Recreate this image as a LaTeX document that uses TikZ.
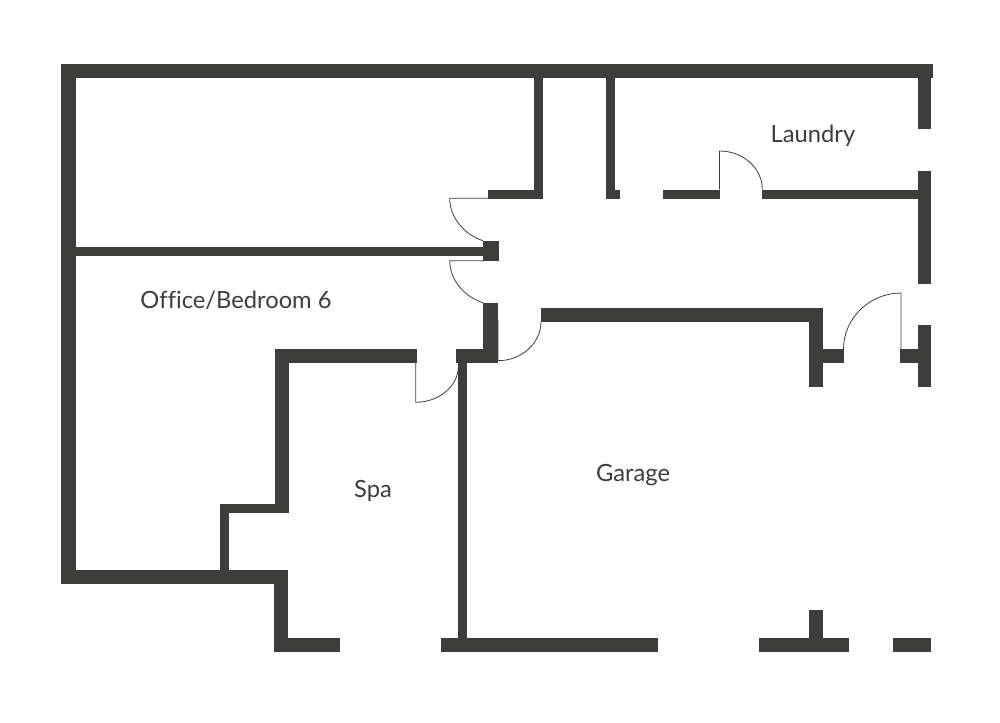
\documentclass[tikz,border=0pt]{standalone}
\usepackage{fontspec}
\setmainfont[Ligatures=NoCommon]{Lato}
\definecolor{wallgrey}{HTML}{3D3E3C}
\tikzset{
	roomlabel/.style={text=wallgrey, font=\fontsize{17.8}{21}\selectfont},
	doorline/.style={draw=wallgrey, line width=0.6pt},
}
\begin{document}
\begin{tikzpicture}[x=0.75pt, y=-0.75pt]
\useasboundingbox (0,0) rectangle (1000,722);

% walls
\foreach \xa/\ya/\xb/\yb in {61/64/933/78, 61/64/75.5/583.5, 61/569.5/288/583.5,
	274/570/288/652, 274/638/340/652, 220/503.5/229/570, 220/503.5/289/512.5,
	275/349/289/512.5, 275/349/417/363, 455.5/349/497.5/363, 483/302.5/497.5/363,
	457.5/362/466.5/640, 483/240.5/498.5/260.5, 75/247/484/256, 487.5/189.5/542.5/198.5,
	534/78/542.5/198.5, 606/78/615/198.5, 606/189.5/620/198.5, 662.5/189.5/719.5/198.5,
	762/189.5/918/198.5, 917.5/78/931/128.5, 917.5/170.5/931/283.5, 917.5/324.5/931/386.5,
	900/348.5/918/362.5, 809/307.5/823/386.5, 822/348.5/843.5/362.5, 541/307.5/823/321.5,
	440.5/638/658/652, 758.5/638/848.5/652, 892.5/638/931/652, 809/609.5/823/639} {
	\fill[wallgrey] (\xa,\ya) rectangle (\xb,\yb);
}

% doors
\draw[doorline] (488,198.3) -- (449.7,198.3) .. controls (449.7,218) and (465,235) .. (483,240.7);
\draw[doorline] (484,260.7) -- (449.7,260.7) .. controls (449.7,280.5) and (465,297) .. (483,302.7);
\draw[doorline] (498,320) -- (498,360.7) .. controls (521.6,360.7) and (541,343) .. (541,321.7);
\draw[doorline] (415.7,362.7) -- (415.7,402.3) .. controls (439,402.3) and (458.3,386) .. (458.3,366.7);
\draw[doorline] (719.5,189.5) -- (719.5,151) .. controls (743,151) and (762.3,168) .. (762.3,189.5);
\draw[doorline] (901,349) -- (901,293) .. controls (870,293) and (843.5,318) .. (843.5,349);

% rooms
\node[roomlabel] (laundry) at (813,136) {Laundry};
\node[roomlabel] (office) at (236,300) {Office/Bedroom 6};
\node[roomlabel] (spa) at (373,491) {Spa};
\node[roomlabel] (garage) at (633,475) {Garage};
\end{tikzpicture}
\end{document}
